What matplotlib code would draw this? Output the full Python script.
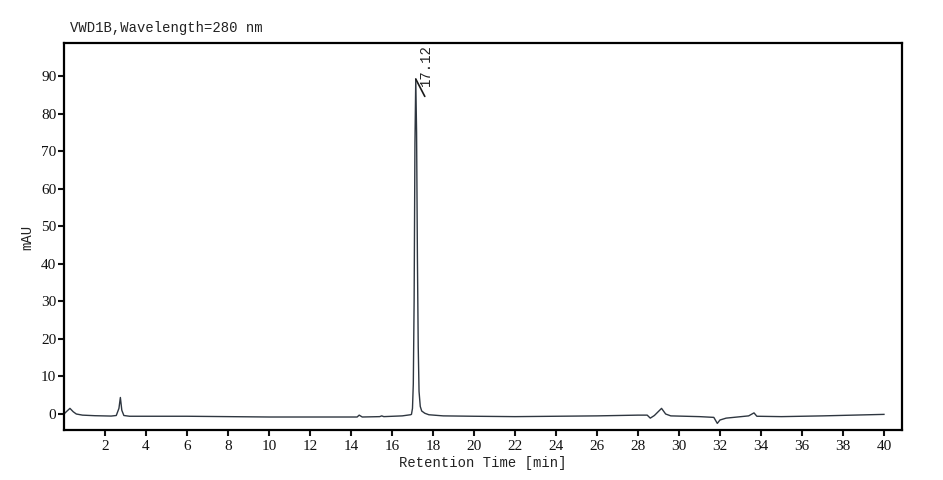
import matplotlib
matplotlib.use('Agg')
import matplotlib.pyplot as plt

# retention time (min) and absorbance (mAU)
tempo = [0.0, 0.15, 0.29, 0.45, 0.6, 0.9, 1.5, 2.3, 2.55, 2.68, 2.75, 2.82, 2.92, 3.2,
         6.0, 8.0, 10.0, 12.0, 14.0, 14.3, 14.4, 14.55, 15.4, 15.5, 15.6, 16.5, 16.9,
         16.95, 17.0, 17.04, 17.08, 17.12, 17.16, 17.2, 17.24, 17.28, 17.32, 17.38,
         17.45, 17.6, 17.8, 18.5, 20.0, 22.0, 24.0, 26.0, 28.0, 28.45, 28.6, 28.8,
         29.15, 29.35, 29.6, 31.0, 31.7, 31.87, 32.0, 32.3, 33.4, 33.66, 33.8, 35.0,
         37.0, 40.0]
mau = [0.0, 0.8, 1.5, 0.6, 0.0, -0.3, -0.45, -0.55, -0.4, 1.5, 4.4, 1.0, -0.4, -0.6,
       -0.6, -0.7, -0.8, -0.8, -0.8, -0.8, -0.3, -0.8, -0.7, -0.5, -0.7, -0.5, -0.2,
       -0.1, 1.5, 8.0, 30.0, 72.0, 89.2, 75.0, 42.0, 18.0, 6.0, 2.0, 0.8, 0.2, -0.2,
       -0.5, -0.6, -0.7, -0.6, -0.5, -0.3, -0.3, -1.1, -0.4, 1.5, 0.0, -0.5, -0.7,
       -0.9, -2.5, -1.6, -1.1, -0.5, 0.3, -0.6, -0.7, -0.5, -0.1]

pico_t = 17.16
pico_y = 89.2
pico_label = '17.12'

xticks = list(range(2, 41, 2))
yticks = list(range(0, 91, 10))

fig = plt.figure(figsize=(9.43, 4.8), dpi=100)
ax = fig.add_axes([64 / 943, 50 / 480, 838 / 943, 387 / 480])

ax.plot(tempo, mau, color='#2e3640', linewidth=1.0)

# marca do pico (estilo ChemStation)
ax.annotate('', xy=(pico_t, pico_y), xytext=(6.5, -12.5), textcoords='offset points',
            arrowprops=dict(arrowstyle='-', color='#1a1a1a', linewidth=1.2,
                            shrinkA=0, shrinkB=0))
ax.annotate(pico_label, xy=(pico_t, pico_y), xytext=(7.5, -5), textcoords='offset points',
            rotation=90, ha='center', va='bottom', family='Liberation Mono',
            fontsize=10, color='#222222')

ax.set_xlim(0, 40.88)
ax.set_ylim(-4.26, 98.8)
ax.set_xticks(xticks)
ax.set_yticks(yticks)
ax.tick_params(direction='out', length=4, width=1.5, labelsize=11, pad=1.5,
               colors='#111111')
ax.tick_params(axis='x', pad=3)
for lab in ax.get_xticklabels() + ax.get_yticklabels():
    lab.set_family('Liberation Serif')
for s in ax.spines.values():
    s.set_linewidth(1.6)
    s.set_color('#000000')

fig.text(70 / 943, 1 - 28 / 480, 'VWD1B,Wavelength=280 nm', family='Liberation Mono',
         fontsize=10, va='center', ha='left', color='#222222')
fig.text(483 / 943, 1 - 463 / 480, 'Retention Time [min]', family='Liberation Mono',
         fontsize=10, va='center', ha='center', color='#222222')
fig.text(27 / 943, 1 - 237 / 480, 'mAU', family='Liberation Mono', rotation=90,
         fontsize=10, va='center', ha='center', color='#222222')

fig.savefig('out.png', dpi=100, facecolor='white')
